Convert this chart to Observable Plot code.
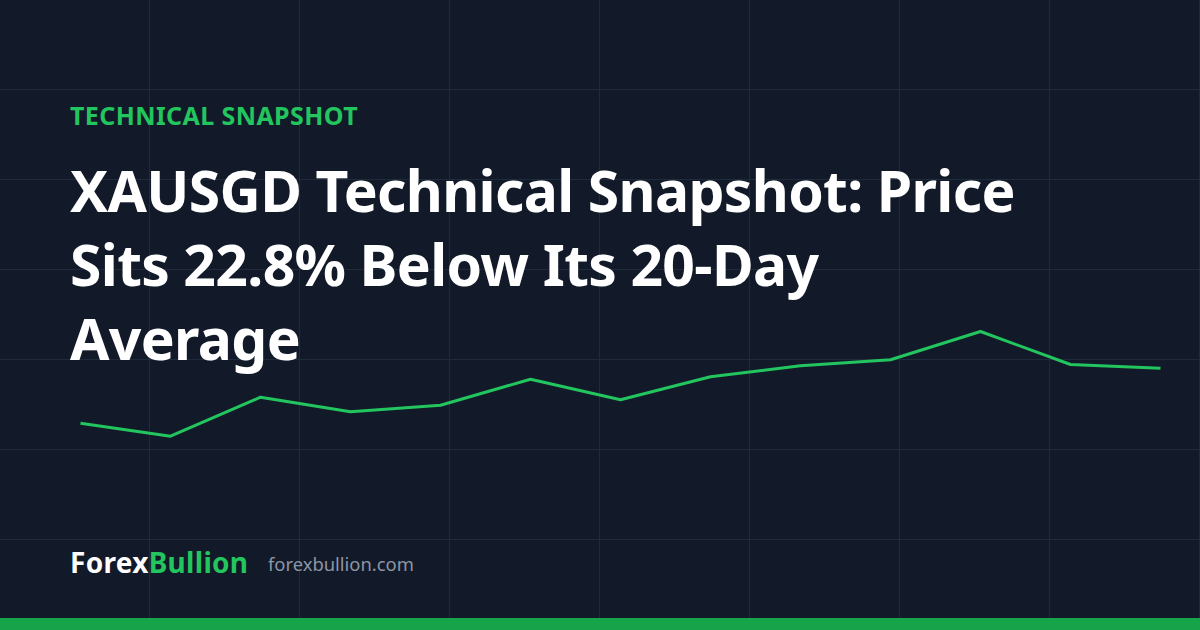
<!DOCTYPE html>
<html>
<head>
<meta charset="utf-8">
<script src="https://cdn.jsdelivr.net/npm/d3@7"></script>
<script src="https://cdn.jsdelivr.net/npm/@observablehq/plot@0.6"></script>
<style>
  html, body { margin: 0; padding: 0; background: #121a29; }
  #card {
    position: relative; width: 1200px; height: 630px; overflow: hidden;
    background-color: #121a29;
    background-image:
      linear-gradient(to right, transparent 149px, #1f2a3a 149px, #1f2a3a 150px, transparent 150px),
      linear-gradient(to bottom, transparent 89px, #1f2a3a 89px, #1f2a3a 90px, transparent 90px);
    background-size: 150px 90px, 150px 90px;
    font-family: "Noto Sans", "Open Sans", sans-serif;
  }
  #chart { position: absolute; left: 0; top: 0; }
  .eyebrow { position: absolute; left: 70px; top: 99px; color: #22c55e; font-weight: 700; font-size: 25px; letter-spacing: 0.4px; line-height: 32px; }
  .title { position: absolute; left: 70px; top: 153px; width: 965px; color: #ffffff; font-weight: 700; font-size: 57px; letter-spacing: -0.65px; line-height: 74px; margin: 0; }
  .brand { position: absolute; left: 70px; top: 542px; font-weight: 700; font-size: 28px; letter-spacing: 0.3px; line-height: 40px; color: #ffffff; }
  .brand span { color: #22c55e; }
  .url { position: absolute; left: 268px; top: 549px; font-size: 18.4px; line-height: 30px; color: #8d95a5; }
  .bar { position: absolute; left: 0; top: 618px; width: 1200px; height: 12px; background: #16a34a; }
</style>
</head>
<body>
<div id="card">
  <div id="chart"></div>
  <div class="eyebrow">TECHNICAL SNAPSHOT</div>
  <h1 class="title">XAUSGD Technical Snapshot: Price Sits 22.8% Below Its 20-Day Average</h1>
  <div class="brand">Forex<span>Bullion</span></div>
  <div class="url">forexbullion.com</div>
  <div class="bar"></div>
</div>
<script>
// Session index and relative closing level
const sessions = [0, 1, 2, 3, 4, 5, 6, 7, 8, 9, 10, 11, 12];
const closes = [77.3, 64.3, 103.3, 88.7, 95.3, 121.3, 100.7, 123.7, 134.7, 140.7, 169.0, 136.0, 132.3];

const data = sessions.map((s, i) => ({session: s, close: closes[i]}));

const chart = Plot.plot({
  width: 1200,
  height: 630,
  margin: 0,
  style: {background: "transparent", overflow: "visible"},
  x: {domain: [0, 12], range: [80, 1160], axis: null},
  y: {domain: [0, 200], range: [500, 300], axis: null},
  marks: [
    Plot.line(data, {x: "session", y: "close", stroke: "#22c55e", strokeWidth: 3, strokeLinejoin: "miter", strokeLinecap: "butt"})
  ]
});
document.getElementById("chart").appendChild(chart);
</script>
</body>
</html>
